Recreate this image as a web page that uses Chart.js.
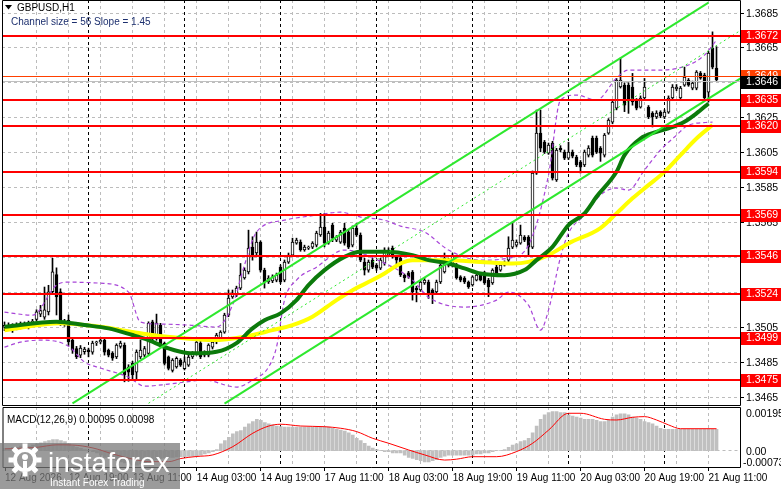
<!DOCTYPE html>
<html>
<head>
<meta charset="utf-8">
<script src="https://cdn.jsdelivr.net/npm/chart.js@4.4.1/dist/chart.umd.min.js"></script>
<style>
  html, body { margin: 0; padding: 0; background: #fff; overflow: hidden; }
  #wrap { position: relative; width: 781px; height: 489px; }
  canvas { position: absolute; left: 0; }
  #main { top: 0; }
  #macd { top: 405px; }
</style>
</head>
<body>
<div id="wrap">
  <canvas id="main" width="781" height="406"></canvas>
  <canvas id="macd" width="781" height="84"></canvas>
</div>
<script>
// time axis: one slot per H1 bar, labels every 16 bars
const tickLabels = ['12 Aug 2026', '12 Aug 19:00', '13 Aug 11:00', '14 Aug 03:00', '14 Aug 19:00', '17 Aug 11:00',
  '18 Aug 03:00', '18 Aug 19:00', '19 Aug 11:00', '20 Aug 03:00', '20 Aug 19:00', '21 Aug 11:00'];
const tickStep = 16;
const daySeparators = [21, 45, 69, 93, 117, 141, 165];

const priceTicks = [1.3465, 1.3485, 1.3505, 1.3525, 1.3545, 1.3565, 1.3585, 1.3605, 1.3625, 1.3645, 1.3665, 1.3685];
const levels = [1.3672, 1.3635, 1.3620, 1.3594, 1.3569, 1.3546, 1.3524, 1.3499, 1.3475];
const askPrice = 1.3649;
const bidPrice = 1.3646;

const opens = [
  1.35050,1.35060,1.35045,1.35065,1.35050,1.35070,1.35055,1.35075,1.35095,1.35125,
  1.35108,1.35138,1.35253,1.35352,1.35253,1.35081,1.35090,1.34976,1.34928,1.34890,
  1.34910,1.34920,1.34907,1.34960,1.34965,1.34976,1.34919,1.34901,1.34879,1.34940,
  1.34947,1.34822,1.34844,1.34793,1.34880,1.34890,1.34900,1.35081,1.34987,1.35062,
  1.34957,1.34880,1.34803,1.34822,1.34862,1.34813,1.34833,1.34879,1.34901,1.34959,
  1.34907,1.34890,1.34936,1.34965,1.34987,1.35022,1.35119,1.35223,1.35234,1.35274,
  1.35332,1.35366,1.35509,1.35475,1.35537,1.35377,1.35309,1.35315,1.35320,1.35394,
  1.35320,1.35423,1.35463,1.35532,1.35537,1.35492,1.35503,1.35509,1.35520,1.35578,
  1.35623,1.35532,1.35635,1.35549,1.35537,1.35618,1.35595,1.35520,1.35618,1.35578,
  1.35423,1.35377,1.35434,1.35406,1.35388,1.35417,1.35463,1.35503,1.35452,1.35446,
  1.35349,1.35361,1.35366,1.35274,1.35263,1.35303,1.35309,1.35263,1.35252,1.35309,
  1.35366,1.35434,1.35406,1.35406,1.35338,1.35332,1.35309,1.35292,1.35320,1.35349,
  1.35361,1.35320,1.35303,1.35394,1.35377,1.35406,1.35434,1.35509,1.35520,1.35532,
  1.35566,1.35566,1.35509,1.35933,1.36162,1.36110,1.36047,1.36105,1.35893,1.36076,
  1.36053,1.36019,1.36053,1.36024,1.35996,1.35979,1.36036,1.36133,1.36133,1.36076,
  1.36036,1.36162,1.36225,1.36305,1.36426,1.36437,1.36437,1.36426,1.36351,1.36311,
  1.36363,1.36311,1.36277,1.36254,1.36282,1.36254,1.36282,1.36363,1.36415,1.36363,
  1.36437,1.36466,1.36420,1.36420,1.36506,1.36494,1.36397,1.36649,1.36535
];
const highs = [
  1.35080,1.35075,1.35070,1.35075,1.35080,1.35080,1.35085,1.35095,1.35150,1.35175,
  1.35280,1.35290,1.35445,1.35390,1.35270,1.35095,1.35120,1.34990,1.34940,1.34945,
  1.34935,1.34930,1.34970,1.34970,1.34990,1.34985,1.34925,1.34910,1.34955,1.34970,
  1.34960,1.34835,1.34855,1.34920,1.34976,1.34940,1.35081,1.35090,1.35125,1.35072,
  1.34965,1.34885,1.34870,1.34880,1.34870,1.34880,1.34890,1.34910,1.34975,1.34970,
  1.34915,1.34955,1.34975,1.35015,1.35030,1.35130,1.35263,1.35263,1.35285,1.35415,
  1.35390,1.35606,1.35568,1.35595,1.35545,1.35388,1.35345,1.35350,1.35360,1.35406,
  1.35435,1.35475,1.35560,1.35560,1.35550,1.35520,1.35515,1.35540,1.35600,1.35702,
  1.35702,1.35600,1.35645,1.35575,1.35605,1.35645,1.35605,1.35630,1.35645,1.35590,
  1.35445,1.35435,1.35445,1.35415,1.35445,1.35505,1.35505,1.35515,1.35460,1.35455,
  1.35355,1.35370,1.35375,1.35285,1.35320,1.35330,1.35320,1.35270,1.35320,1.35415,
  1.35475,1.35445,1.35475,1.35415,1.35345,1.35340,1.35315,1.35345,1.35360,1.35360,
  1.35370,1.35330,1.35385,1.35405,1.35415,1.35430,1.35568,1.35652,1.35550,1.35635,
  1.35575,1.35575,1.35945,1.36294,1.36294,1.36120,1.36105,1.36115,1.36075,1.36090,
  1.36065,1.36110,1.36065,1.36035,1.36005,1.36065,1.36090,1.36145,1.36145,1.36085,
  1.36160,1.36245,1.36350,1.36475,1.36592,1.36450,1.36450,1.36504,1.36360,1.36375,
  1.36475,1.36320,1.36285,1.36290,1.36290,1.36295,1.36375,1.36440,1.36440,1.36430,
  1.36540,1.36475,1.36460,1.36520,1.36515,1.36505,1.36630,1.36742,1.36657
];
const lows = [
  1.35030,1.35035,1.35020,1.35035,1.35040,1.35045,1.35040,1.35060,1.35085,1.35110,
  1.35095,1.35120,1.35240,1.35120,1.35060,1.35055,1.34945,1.34900,1.34870,1.34875,
  1.34895,1.34880,1.34895,1.34945,1.34955,1.34890,1.34880,1.34860,1.34870,1.34930,
  1.34737,1.34740,1.34747,1.34750,1.34870,1.34880,1.34890,1.34975,1.34975,1.34940,
  1.34833,1.34805,1.34793,1.34815,1.34825,1.34805,1.34825,1.34870,1.34890,1.34870,
  1.34880,1.34880,1.34925,1.34955,1.34980,1.35015,1.35110,1.35215,1.35225,1.35265,
  1.35325,1.35355,1.35434,1.35465,1.35366,1.35274,1.35300,1.35305,1.35310,1.35300,
  1.35310,1.35415,1.35455,1.35525,1.35485,1.35485,1.35495,1.35500,1.35510,1.35570,
  1.35510,1.35525,1.35540,1.35540,1.35530,1.35520,1.35500,1.35510,1.35570,1.35425,
  1.35349,1.35365,1.35385,1.35375,1.35380,1.35405,1.35455,1.35445,1.35400,1.35340,
  1.35310,1.35330,1.35205,1.35195,1.35255,1.35295,1.35215,1.35185,1.35245,1.35300,
  1.35360,1.35395,1.35395,1.35325,1.35310,1.35300,1.35272,1.35285,1.35315,1.35315,
  1.35295,1.35225,1.35295,1.35355,1.35370,1.35400,1.35425,1.35500,1.35510,1.35525,
  1.35540,1.35463,1.35500,1.35925,1.36055,1.36045,1.36040,1.35893,1.35885,1.36055,
  1.36010,1.36010,1.36020,1.35970,1.35933,1.35970,1.36025,1.36025,1.36045,1.36000,
  1.36025,1.36155,1.36215,1.36295,1.36420,1.36285,1.36275,1.36322,1.36295,1.36305,
  1.36355,1.36245,1.36197,1.36245,1.36250,1.36245,1.36275,1.36355,1.36405,1.36355,
  1.36430,1.36430,1.36410,1.36410,1.36470,1.36351,1.36340,1.36530,1.36460
];
const closes = [
  1.35060,1.35045,1.35065,1.35050,1.35070,1.35055,1.35075,1.35085,1.35138,1.35145,
  1.35150,1.35253,1.35367,1.35224,1.35081,1.35070,1.34966,1.34919,1.34880,1.34930,
  1.34925,1.34910,1.34959,1.34962,1.34976,1.34907,1.34890,1.34873,1.34947,1.34959,
  1.34776,1.34793,1.34776,1.34908,1.34919,1.34928,1.35072,1.34986,1.35073,1.34947,
  1.34842,1.34814,1.34862,1.34871,1.34833,1.34851,1.34879,1.34901,1.34965,1.34879,
  1.34890,1.34947,1.34965,1.35005,1.35022,1.35119,1.35217,1.35246,1.35274,1.35349,
  1.35377,1.35503,1.35463,1.35537,1.35377,1.35309,1.35332,1.35338,1.35349,1.35309,
  1.35423,1.35463,1.35537,1.35549,1.35492,1.35509,1.35505,1.35532,1.35589,1.35623,
  1.35532,1.35589,1.35560,1.35566,1.35595,1.35532,1.35509,1.35618,1.35578,1.35434,
  1.35377,1.35423,1.35394,1.35388,1.35434,1.35492,1.35492,1.35452,1.35434,1.35349,
  1.35332,1.35338,1.35252,1.35263,1.35309,1.35320,1.35246,1.35246,1.35309,1.35406,
  1.35446,1.35406,1.35463,1.35332,1.35320,1.35309,1.35280,1.35338,1.35349,1.35320,
  1.35303,1.35280,1.35377,1.35361,1.35406,1.35423,1.35503,1.35549,1.35537,1.35578,
  1.35549,1.35509,1.35933,1.36162,1.36076,1.36053,1.36093,1.35904,1.36065,1.36065,
  1.36019,1.36053,1.36030,1.35979,1.35967,1.36053,1.36076,1.36036,1.36053,1.36047,
  1.36151,1.36236,1.36340,1.36466,1.36466,1.36322,1.36351,1.36340,1.36305,1.36363,
  1.36426,1.36254,1.36254,1.36277,1.36260,1.36282,1.36363,1.36426,1.36426,1.36420,
  1.36483,1.36437,1.36449,1.36511,1.36477,1.36363,1.36620,1.36540,1.36466
];

// moving averages and envelope, read at points along the curves [bar, price]
const maGreen = [[0,1.35052],[13,1.35081],[20,1.35062],[26,1.35043],[32,1.35005],[36,1.34976],[41,1.34928],
  [44,1.34909],[47,1.34900],[53,1.34909],[58,1.34959],[62,1.35043],[65,1.35090],[69,1.35129],[73,1.35205],
  [76,1.35291],[80,1.35377],[85,1.35453],[89,1.35482],[95,1.35482],[102,1.35463],[106,1.35434],[111,1.35415],
  [115,1.35387],[119,1.35358],[125,1.35348],[130,1.35377],[133,1.35434],[137,1.35510],[141,1.35635],
  [145,1.35702],[148,1.35797],[153,1.35940],[155,1.36036],[159,1.36131],[163,1.36169],[166,1.36189],
  [170,1.36227],[173,1.36275],[176,1.36332]];
const maYellow = [[0,1.35033],[14,1.35073],[24,1.35052],[32,1.35023],[37,1.35005],[45,1.34986],[52,1.34976],
  [60,1.34995],[67,1.35033],[72,1.35062],[77,1.35110],[83,1.35205],[87,1.35262],[92,1.35320],[95,1.35358],
  [99,1.35415],[102,1.35434],[111,1.35434],[119,1.35424],[127,1.35415],[131,1.35424],[136,1.35463],
  [141,1.35530],[149,1.35618],[153,1.35702],[157,1.35788],[161,1.35864],[165,1.35940],[169,1.36036],
  [173,1.36131],[177,1.36208]];
const bandUpper = [[0,1.35136],[7,1.35119],[13,1.35291],[16,1.35308],[24,1.35302],[31,1.35251],[34,1.35079],
  [39,1.35068],[46,1.35062],[53,1.35051],[57,1.35176],[60,1.35406],[63,1.35595],[70,1.35663],[78,1.35692],
  [84,1.35709],[89,1.35681],[95,1.35663],[99,1.35629],[105,1.35595],[111,1.35492],[119,1.35434],
  [126,1.35446],[131,1.35520],[136,1.35921],[139,1.36351],[143,1.36380],[148,1.36351],[153,1.36477],
  [156,1.36523],[164,1.36523],[171,1.36552],[175,1.36609],[178,1.36695]];
const bandLower = [[0,1.34936],[4,1.34964],[9,1.34976],[16,1.34941],[20,1.34850],[24,1.34816],[31,1.34764],
  [35,1.34712],[41,1.34724],[45,1.34735],[50,1.34747],[58,1.34707],[62,1.34747],[66,1.34821],[68,1.34936],
  [70,1.35205],[73,1.35320],[78,1.35394],[85,1.35492],[95,1.35417],[102,1.35320],[106,1.35222],
  [115,1.35165],[123,1.35205],[126,1.35251],[131,1.35176],[134,1.35033],[136,1.35148],[139,1.35451],
  [141,1.35589],[145,1.35692],[149,1.35807],[153,1.35847],[156,1.35835],[160,1.35950],[164,1.36065],
  [168,1.36150],[171,1.36208],[177,1.36225]];

// equidistant channel (size 56, slope 1.45)
const channelUpper = [[17,1.34613],[176,1.36909]];
const channelMiddle = [[36,1.34614],[184,1.36750]];
const channelLower = [[55,1.34612],[184,1.36475]];

// MACD(12,26,9)
const macdHist = [
  0.00010,0.00010,0.00015,0.00015,0.00020,0.00020,0.00020,0.00025,0.00030,0.00035,
  0.00040,0.00045,0.00050,0.00050,0.00045,0.00040,0.00030,0.00020,0.00015,0.00010,
  0.00005,0.00000,-0.00005,-0.00010,-0.00020,-0.00030,-0.00035,-0.00040,-0.00045,-0.00050,
  -0.00055,-0.00060,-0.00065,-0.00065,-0.00060,-0.00055,-0.00050,-0.00045,-0.00040,-0.00035,
  -0.00032,-0.00030,-0.00030,-0.00028,-0.00027,-0.00027,-0.00026,-0.00025,-0.00022,-0.00020,
  -0.00015,-0.00010,-0.00005,0.00005,0.00030,0.00045,0.00060,0.00075,0.00085,0.00090,
  0.00105,0.00120,0.00130,0.00140,0.00135,0.00125,0.00120,0.00115,0.00110,0.00107,
  0.00105,0.00105,0.00105,0.00105,0.00105,0.00105,0.00105,0.00105,0.00105,0.00105,
  0.00105,0.00105,0.00100,0.00095,0.00092,0.00088,0.00080,0.00070,0.00055,0.00045,
  0.00033,0.00020,0.00011,0.00005,0.00000,-0.00005,-0.00005,-0.00010,-0.00010,-0.00010,
  -0.00020,-0.00030,-0.00035,-0.00040,-0.00045,-0.00050,-0.00050,-0.00045,-0.00040,-0.00030,
  -0.00025,-0.00020,-0.00020,-0.00020,-0.00020,-0.00020,-0.00020,-0.00020,-0.00015,-0.00015,
  -0.00010,-0.00010,-0.00005,0.00000,0.00000,0.00005,0.00015,0.00025,0.00030,0.00040,
  0.00045,0.00055,0.00080,0.00110,0.00140,0.00160,0.00170,0.00175,0.00175,0.00170,
  0.00170,0.00160,0.00155,0.00150,0.00145,0.00140,0.00140,0.00140,0.00135,0.00130,
  0.00130,0.00135,0.00150,0.00160,0.00165,0.00165,0.00160,0.00150,0.00145,0.00140,
  0.00130,0.00125,0.00120,0.00110,0.00100,0.00095,0.00095,0.00095,0.00095,0.00095,
  0.00095,0.00095,0.00095,0.00095,0.00095,0.00095,0.00095,0.00095,0.00095
];
const macdSignal = [[0,0.00008],[8,0.00015],[13,0.00026],[17,0.00025],[22,0.00012],[27,-0.00015],[32,-0.00038],
  [36,-0.00049],[41,-0.00049],[44,-0.00035],[48,-0.00026],[52,-0.00019],[57,0.00018],[62,0.00078],[66,0.00110],
  [69,0.00118],[74,0.00110],[80,0.00107],[84,0.00100],[88,0.00085],[92,0.00055],[96,0.00033],[101,0.00003],
  [105,-0.00019],[110,-0.00042],[113,-0.00038],[117,-0.00027],[123,-0.00027],[128,-0.00004],[132,0.00033],
  [136,0.00092],[141,0.00167],[144,0.00167],[150,0.00140],[153,0.00137],[157,0.00149],[160,0.00152],
  [163,0.00137],[166,0.00115],[169,0.00098],[178,0.00098]];
const macdTicks = [0.00195, 0, -0.00073];

const FONT = '"Liberation Sans", Arial, sans-serif';
Chart.defaults.font.family = FONT;
Chart.defaults.color = '#000';

const xMin = -0.625, xMax = 183.875;
const pts = arr => arr.map(([x, y]) => ({ x, y }));

function drawGrid(chart, yValues) {
  const { ctx, chartArea: a, scales: { x, y } } = chart;
  ctx.save();
  ctx.lineWidth = 1;
  ctx.setLineDash([3, 3]);
  ctx.strokeStyle = '#bcbcbc';
  for (let i = 8; i < xMax; i += 8) {
    if (daySeparators.includes(i)) continue;
    const px = Math.floor(x.getPixelForValue(i)) + 0.5;
    ctx.beginPath(); ctx.moveTo(px, a.top); ctx.lineTo(px, a.bottom); ctx.stroke();
  }
  yValues.forEach(v => {
    const py = Math.floor(y.getPixelForValue(v)) + 0.5;
    ctx.beginPath(); ctx.moveTo(a.left, py); ctx.lineTo(a.right, py); ctx.stroke();
  });
  ctx.strokeStyle = '#000';
  daySeparators.forEach(i => {
    const px = Math.floor(x.getPixelForValue(i)) + 0.5;
    ctx.beginPath(); ctx.moveTo(px, a.top); ctx.lineTo(px, a.bottom); ctx.stroke();
  });
  ctx.restore();
}

function drawFrame(chart) {
  const { ctx, chartArea: a } = chart;
  ctx.save();
  ctx.strokeStyle = '#000';
  ctx.lineWidth = 1;
  ctx.beginPath();
  ctx.moveTo(a.left + 0.5, a.top + 0.5); ctx.lineTo(a.right + 0.5, a.top + 0.5);
  ctx.lineTo(a.right + 0.5, a.bottom + 0.5); ctx.lineTo(a.left + 0.5, a.bottom + 0.5);
  ctx.closePath();
  ctx.stroke();
  ctx.restore();
}

function priceBox(ctx, y, text, bg) {
  ctx.fillStyle = bg;
  ctx.fillRect(741, Math.round(y) - 6, 40, 13);
  ctx.fillStyle = '#fff';
  ctx.font = '10.5px ' + FONT;
  ctx.textBaseline = 'middle';
  ctx.textAlign = 'left';
  ctx.fillText(text, 746, Math.round(y) + 0.5);
}

const mainPlugin = {
  id: 'mainDeco',
  beforeDatasetsDraw(chart) { drawGrid(chart, priceTicks); },
  afterDatasetsDraw(chart) {
    const { ctx, chartArea: a, scales: { y } } = chart;
    ctx.save();
    ctx.fillStyle = '#ff0000';
    levels.forEach(v => {
      const py = Math.round(y.getPixelForValue(v));
      ctx.fillRect(a.left, py - 1, a.right - a.left, 2);
    });
    ctx.fillStyle = '#ff4000';
    ctx.fillRect(a.left, Math.round(y.getPixelForValue(askPrice)), a.right - a.left, 1);
    ctx.fillStyle = '#c0c0c0';
    ctx.fillRect(a.left, Math.round(y.getPixelForValue(bidPrice)), a.right - a.left, 1);
    ctx.restore();
  },
  afterDraw(chart) {
    const { ctx, chartArea: a, scales: { y } } = chart;
    drawFrame(chart);
    ctx.save();
    ctx.fillStyle = '#000';
    ctx.font = '10.5px ' + FONT;
    ctx.textBaseline = 'middle';
    ctx.textAlign = 'left';
    priceTicks.forEach(v => {
      const py = Math.floor(y.getPixelForValue(v));
      ctx.fillRect(a.right + 1, py, 3, 1);
      ctx.fillText(v.toFixed(4), 746, py + 1);
    });
    levels.forEach(v => priceBox(ctx, y.getPixelForValue(v), v.toFixed(4), '#ff0000'));
    priceBox(ctx, y.getPixelForValue(askPrice), askPrice.toFixed(4), '#ff4000');
    priceBox(ctx, y.getPixelForValue(bidPrice) + 1, bidPrice.toFixed(4), '#000000');
    // header
    ctx.fillStyle = '#000';
    ctx.beginPath(); ctx.moveTo(5, 5); ctx.lineTo(12, 5); ctx.lineTo(8.5, 9.5); ctx.closePath(); ctx.fill();
    ctx.font = '10px ' + FONT;
    ctx.fillText('GBPUSD,H1', 17, 8);
    ctx.fillStyle = '#1c2f6e';
    ctx.fillText('Channel size = 56 Slope = 1.45', 11, 22);
    ctx.restore();
  }
};

const lineDs = (data, color, width, order, dash) => ({
  type: 'line', data: pts(data), borderColor: color, borderWidth: width, pointRadius: 0,
  cubicInterpolationMode: 'monotone', borderDash: dash || [], order, fill: false
});

const bars = opens.map((o, i) => i);
new Chart(document.getElementById('main'), {
  type: 'bar',
  data: {
    datasets: [
      {
        data: bars.map(i => ({ x: i, y: [lows[i], highs[i]] })),
        backgroundColor: '#000', barThickness: 1, grouped: false, order: 10
      },
      {
        data: bars.map(i => ({ x: i, y: [opens[i], closes[i]] })),
        backgroundColor: bars.map(i => closes[i] >= opens[i] ? '#ffffff' : '#000000'),
        borderColor: '#000', borderWidth: 1, borderSkipped: false, minBarLength: 1,
        barThickness: 3, grouped: false, order: 9
      },
      lineDs(bandUpper, '#a845d8', 1.2, 8, [4, 3]),
      lineDs(bandLower, '#a845d8', 1.2, 8, [4, 3]),
      lineDs(maYellow, '#ffff00', 4, 7),
      lineDs(maGreen, '#0b7a0b', 4, 6),
      { type: 'line', data: pts(channelUpper), borderColor: '#2ee82e', borderWidth: 2, pointRadius: 0, order: 5 },
      { type: 'line', data: pts(channelLower), borderColor: '#2ee82e', borderWidth: 2, pointRadius: 0, order: 5 },
      { type: 'line', data: pts(channelMiddle), borderColor: '#2ee82e', borderWidth: 1, borderDash: [2, 3], pointRadius: 0, order: 5 }
    ]
  },
  options: {
    responsive: false, animation: false, events: [],
    layout: { padding: { left: 2, top: 0, right: 0, bottom: 1 } },
    plugins: { legend: { display: false }, tooltip: { enabled: false } },
    scales: {
      x: { type: 'linear', min: xMin, max: xMax, offset: false, display: false },
      y: {
        position: 'right', min: 1.346042, max: 1.369245,
        grid: { display: false, drawTicks: false }, border: { display: false },
        afterFit: s => { s.width = 41; },
        ticks: { display: false }
      }
    }
  },
  plugins: [mainPlugin]
});

function drawWatermark(ctx) {
  ctx.save();
  ctx.fillStyle = 'rgba(120,120,120,0.74)';
  ctx.fillRect(0, 38, 180, 46);
  ctx.fillStyle = '#fff';
  ctx.strokeStyle = '#fff';
  const cx = 25, cy = 55;
  ctx.lineWidth = 4;
  ctx.beginPath(); ctx.arc(cx, cy, 10, 0, Math.PI * 2); ctx.stroke();
  for (let k = 0; k < 8; k++) {
    const ang = k * Math.PI / 4;
    ctx.save();
    ctx.translate(cx + Math.cos(ang) * 14, cy + Math.sin(ang) * 14);
    ctx.rotate(ang);
    ctx.fillRect(-2.5, -2.5, 5, 5);
    ctx.restore();
  }
  ctx.beginPath(); ctx.arc(cx, cy - 3, 3, 0, Math.PI * 2); ctx.fill();
  ctx.fillRect(cx - 2, cy + 1, 4, 9);
  ctx.font = '28px ' + FONT;
  ctx.textBaseline = 'alphabetic';
  ctx.textAlign = 'left';
  ctx.fillText('instaforex', 48, 67);
  ctx.font = '10px ' + FONT;
  ctx.fillText('Instant Forex Trading', 50, 81);
  ctx.restore();
}

const macdPlugin = {
  id: 'macdDeco',
  beforeDatasetsDraw(chart) { drawGrid(chart, [0]); },
  afterDraw(chart) {
    const { ctx, chartArea: a, scales: { x, y } } = chart;
    drawFrame(chart);
    ctx.save();
    ctx.fillStyle = '#000';
    for (let i = 0; i < xMax; i += tickStep) {
      const px = Math.floor(x.getPixelForValue(i));
      ctx.fillRect(px, a.bottom + 1, 1, 3);
    }
    ctx.font = '10.5px ' + FONT;
    ctx.textAlign = 'left';
    ctx.textBaseline = 'top';
    ctx.fillText(macdTicks[0].toFixed(5), 746, y.getPixelForValue(macdTicks[0]) + 2);
    ctx.textBaseline = 'middle';
    ctx.fillText(macdTicks[1].toFixed(2), 746, y.getPixelForValue(macdTicks[1]) + 1);
    ctx.textBaseline = 'bottom';
    ctx.fillText(macdTicks[2].toFixed(5), 743, y.getPixelForValue(macdTicks[2]) + 1);
    ctx.font = '10px ' + FONT;
    ctx.textBaseline = 'middle';
    ctx.fillText('MACD(12,26,9) 0.00095 0.00098', 7, 15);
    drawWatermark(ctx);
    ctx.restore();
  }
};

new Chart(document.getElementById('macd'), {
  type: 'bar',
  data: {
    datasets: [
      { data: macdHist.map((v, i) => ({ x: i, y: v })), backgroundColor: '#c0c0c0', barThickness: 3, grouped: false, order: 2 },
      { type: 'line', data: pts(macdSignal), borderColor: '#ff0000', borderWidth: 1, pointRadius: 0,
        cubicInterpolationMode: 'monotone', order: 1 }
    ]
  },
  options: {
    responsive: false, animation: false, events: [],
    layout: { padding: { left: 2, top: 2, right: 0, bottom: 0 } },
    plugins: { legend: { display: false }, tooltip: { enabled: false } },
    scales: {
      x: {
        type: 'linear', min: xMin, max: xMax, offset: false,
        grid: { display: false, drawTicks: false }, border: { display: false },
        afterBuildTicks: s => { s.ticks = tickLabels.map((t, k) => ({ value: k * tickStep })); },
        afterFit: s => { s.height = 22; },
        ticks: { autoSkip: false, maxRotation: 0, align: 'start', padding: 5, font: { size: 10 },
          callback: v => tickLabels[Math.round(v / tickStep)] }
      },
      y: {
        position: 'right', min: -0.00073, max: 0.00195,
        grid: { display: false, drawTicks: false }, border: { display: false },
        afterFit: s => { s.width = 41; },
        ticks: { display: false }
      }
    }
  },
  plugins: [macdPlugin]
});
</script>
</body>
</html>
